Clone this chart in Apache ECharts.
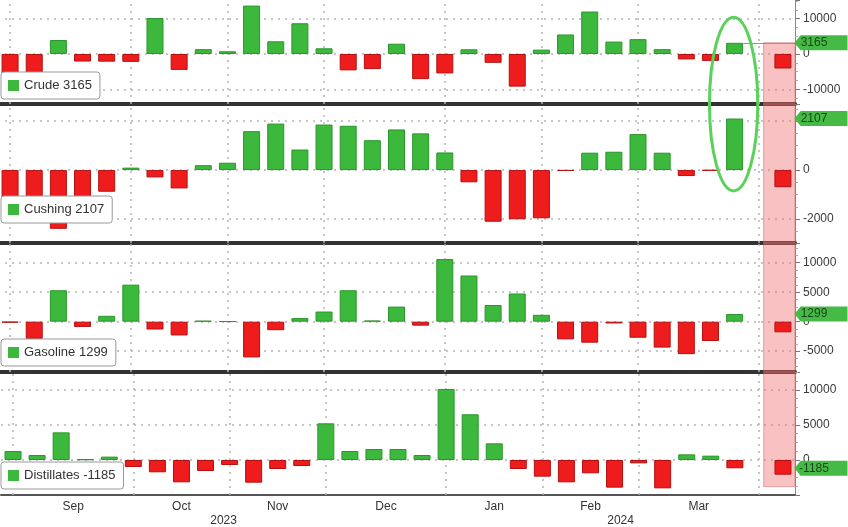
<!DOCTYPE html>
<html><head><meta charset="utf-8">
<script src="https://cdn.jsdelivr.net/npm/echarts@6/dist/echarts.min.js"></script>
<style>html,body{margin:0;padding:0;background:#fff;overflow:hidden}#c{position:relative;left:-2px;width:850px;height:527px}</style>
</head><body><div id="c"></div>
<script>
// ---- data ----
const weekDates = ['2023-08-25','2023-09-01','2023-09-08','2023-09-15','2023-09-22','2023-09-29',
  '2023-10-06','2023-10-13','2023-10-20','2023-10-27','2023-11-03','2023-11-10','2023-11-17','2023-11-24',
  '2023-12-01','2023-12-08','2023-12-15','2023-12-22','2023-12-29','2024-01-05','2024-01-12','2024-01-19',
  '2024-01-26','2024-02-02','2024-02-09','2024-02-16','2024-02-23','2024-03-01','2024-03-08','2024-03-15',
  '2024-03-22','2024-03-29','2024-04-05'];
const crude = [-10584,-6307,3955,-2135,-2169,-2224,10176,-4491,1372,774,13700,3592,8701,1609,-4632,-4259,
  2909,-7114,-5503,1338,-2492,-9233,1234,5521,12018,3514,4199,1367,-1536,-1952,3165,null,-4100];
const cushing = [-1500,-1400,-2400,-1950,-885,100,-300,-750,200,300,1590,1900,840,1860,1810,1220,
  1660,1500,720,-500,-2110,-2010,-1970,-30,710,750,1470,710,-245,-20,2107,null,-700];
const gasoline = [-150,-2900,5330,-890,1000,6280,-1330,-2330,160,60,-6060,-1440,610,1720,5330,200,
  2560,-670,10610,7830,2830,4780,1170,-3000,-3560,-300,-2720,-4390,-5500,-3280,1299,null,-1800];
const distillates = [1290,710,3950,100,480,-1000,-1760,-3190,-1570,-710,-3240,-1290,-860,5240,1290,1570,
  1570,710,10150,6530,2380,-1290,-2380,-3190,-1900,-3950,-480,-4050,810,620,-1185,null,-2100];
const seriesNames = ['Crude','Cushing','Gasoline','Distillates'];
const latestIndex = 30;
const monthLabels = ['Sep','Oct','Nov','Dec','Jan','Feb','Mar'];
const yearLabels = ['2023','2024'];

// ---- layout / style ----
const allData = [crude, cushing, gasoline, distillates];
const grids = [{top:0,height:104},{top:104,height:139},{top:243,height:129},{top:372,height:123}];
const yRanges = [[-14150,15280],[-2980,2700],[-8530,13340],[-5000,12571]];
const ySplit = [3,3,4,4];
const legendTops = [72,196,339,462];
const highlightRange = [31.2, 32.5];
const highlightTops = ['latest', 'max', 'max', 'max'];
const highlightBottoms = ['min','min','min',-3800];
const GREEN = '#3cb83c', RED = '#ee1c1c';
const FONT = 'Liberation Sans, Arial, sans-serif';
const XMIN = -0.5, XMAX = 32.5;

// month boundaries derived from dates
const boundaries = [];
for (let i = 0; i < weekDates.length - 1; i++) {
  if (weekDates[i].slice(5,7) !== weekDates[i+1].slice(5,7)) boundaries.push(i);
}
let yearBreak = 0;
for (let i = 0; i < weekDates.length - 1; i++) {
  if (weekDates[i].slice(0,4) !== weekDates[i+1].slice(0,4)) yearBreak = i;
}
const monthPos = {};
for (let k = 0; k < monthLabels.length; k++) {
  monthPos[((boundaries[k] + boundaries[k+1]) / 2).toFixed(2)] = monthLabels[k];
}
const yearPos = {};
yearPos[((XMIN + yearBreak) / 2).toFixed(2)] = yearLabels[0];
yearPos[((yearBreak + XMAX) / 2).toFixed(2)] = yearLabels[1];

const gridOpt = grids.map(g => ({left:0, right:53, top:g.top, height:g.height}));

const xAxes = grids.map((g, i) => ({
  type:'value', gridIndex:i, min:XMIN, max:XMAX, position:'bottom',
  interval: i === 3 ? 0.25 : undefined,
  axisLine:{show:true, onZero:false, lineStyle: i === 3 ? {color:'#555', width:2} : {color:'#333', width:4}},
  axisTick:{show:false},
  axisLabel: i === 3 ? {show:true, color:'#333', fontSize:12, margin:6, fontFamily:FONT,
    formatter: v => monthPos[v.toFixed(2)] || ''} : {show:false},
  splitLine:{show:false}
}));
xAxes.push({
  type:'value', gridIndex:3, min:XMIN, max:XMAX, interval:0.25, position:'bottom', offset:14,
  axisLine:{show:false, onZero:false}, axisTick:{show:false}, splitLine:{show:false},
  axisLabel:{show:true, color:'#333', fontSize:12, margin:6, fontFamily:FONT,
    formatter: v => yearPos[v.toFixed(2)] || ''}
});

const yAxes = grids.map((g, i) => ({
  type:'value', gridIndex:i, position:'right', min:yRanges[i][0], max:yRanges[i][1], splitNumber:ySplit[i],
  axisLine:{show:true, onZero:false, lineStyle:{color:'#8a8a80', width:1}},
  axisTick:{show:true, length:5, lineStyle:{color:'#777'}},
  minorTick:{show:true, splitNumber:4, length:3, lineStyle:{color:'#aaa'}},
  axisLabel:{show:true, color:'#3a3a3a', fontSize:12, margin:8, fontFamily:FONT, showMinLabel:false, showMaxLabel:false,
    formatter: v => String(v)},
  splitLine:{show:true, showMinLine:false, showMaxLine:false, lineStyle:{color:'#b4b4b4', type:[2,5], width:1.5}}
}));

const series = allData.map((arr, i) => {
  const latest = arr[latestIndex];
  const items = [];
  arr.forEach((v, k) => {
    if (v === null) return;
    items.push({value:[k, v], itemStyle:{color: v >= 0 ? GREEN : RED, borderColor: v >= 0 ? '#2a962a' : '#b51010', borderWidth:1}});
  });
  const mlData = boundaries.map(b => ({xAxis:b, lineStyle:{color:'#b4b4b4', type:[2,5], width:1.5}}));
  if (i === 0) {
    mlData.push([{coord:[latestIndex + 0.36, latest], lineStyle:{color:'#8c9a8c', type:'solid', width:1}},
                 {coord:[XMAX, latest]}]);
  }
  const top = highlightTops[i] === 'latest' ? latest : (highlightTops[i] === 'max' ? yRanges[i][1] : highlightTops[i]);
  const bottom = highlightBottoms[i] === 'min' ? yRanges[i][0] : highlightBottoms[i];
  return {
    name: seriesNames[i], type:'bar', xAxisIndex:i, yAxisIndex:i, barWidth:17,
    itemStyle:{color:GREEN}, data: items, z:3,
    markLine:{silent:true, z:1, symbol:['none','none'], label:{show:false}, animation:false, data: mlData},
    markArea:{silent:true, z:1, itemStyle:{color:'rgba(240,110,110,0.42)', borderColor:'rgba(210,90,90,0.5)', borderWidth:1},
      data:[[{xAxis:highlightRange[0], yAxis:top},{xAxis:highlightRange[1], yAxis:bottom}]]},
    markPoint:{silent:true, z:6, symbol:'path://M0,7 L6,0 L52,0 L52,14 L6,14 Z', symbolSize:[53,15], symbolOffset:[26,0],
      itemStyle:{color:'#45bb45'},
      label:{show:true, position:'inside', offset:[-7,0], color:'#1c3f1c', fontSize:12, fontFamily:FONT, formatter: String(latest)},
      data:[{coord:[XMAX, latest]}]}
  };
});

const legends = seriesNames.map((n, i) => ({
  data:[n], left:3, top:legendTops[i], selectedMode:false,
  backgroundColor:'#fff', borderColor:'#999', borderWidth:1, borderRadius:3,
  padding:[7,8,7,7], itemWidth:11, itemHeight:11, itemGap:6, icon:'rect',
  itemStyle:{color:GREEN, borderWidth:0},
  textStyle:{fontSize:13, color:'#333', fontFamily:FONT},
  formatter: name => name + ' ' + allData[i][latestIndex]
}));

const chart = echarts.init(document.getElementById('c'), null, {renderer:'canvas'});
chart.setOption({
  animation:false, backgroundColor:'#fff',
  textStyle:{fontFamily:FONT},
  grid:gridOpt, xAxis:xAxes, yAxis:yAxes, legend:legends, series:series
});

// annotation ellipse around the latest Crude and Cushing bars
const pTop = chart.convertToPixel({gridIndex:0}, [latestIndex, 10400]);
const pBot = chart.convertToPixel({gridIndex:1}, [latestIndex, -850]);
const pPrev = chart.convertToPixel({gridIndex:0}, [latestIndex - 1, 0]);
const rx = (pTop[0] - pPrev[0]) * 1.0;
chart.setOption({graphic:[{type:'ellipse', silent:true, z:100,
  shape:{cx:pTop[0] - 1, cy:(pTop[1] + pBot[1]) / 2, rx:rx, ry:(pBot[1] - pTop[1]) / 2},
  style:{fill:'none', stroke:'#5ad25a', lineWidth:3}}]});
</script></body></html>
